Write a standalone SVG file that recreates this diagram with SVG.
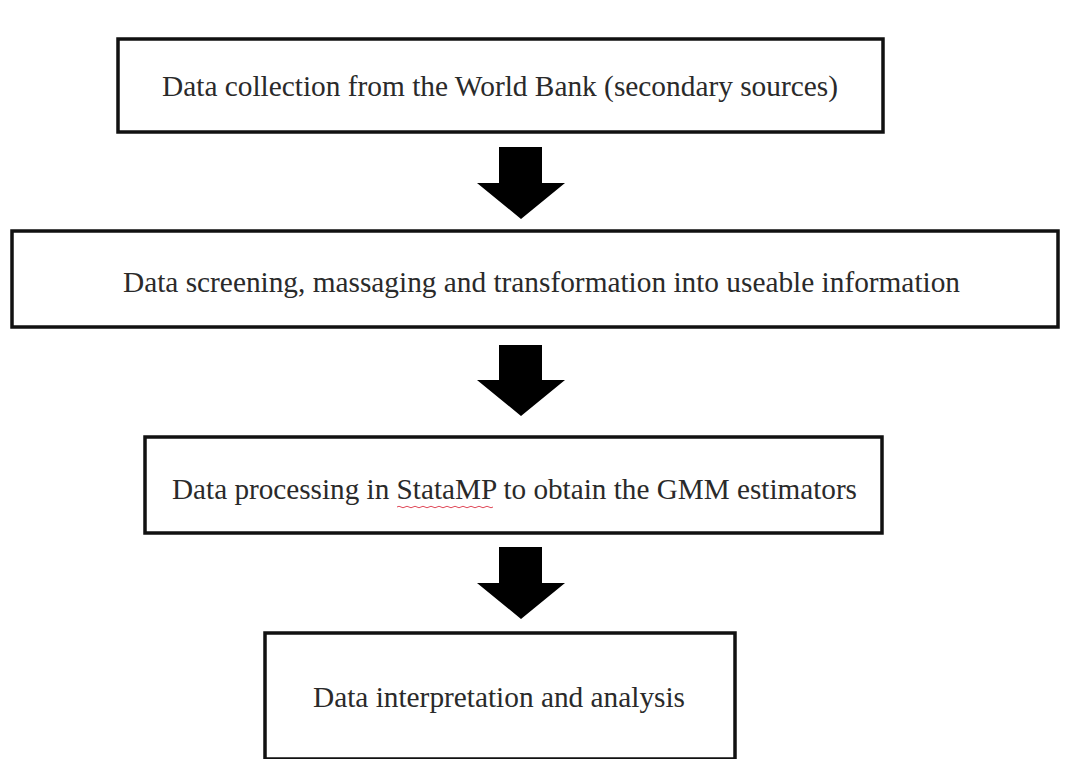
<svg xmlns="http://www.w3.org/2000/svg" width="1065" height="759" viewBox="0 0 1065 759">
<style>
.box{fill:#fff;stroke:#111;stroke-width:3.5}
.lbl{font-family:"Liberation Serif","Times New Roman",serif;font-size:30px;fill:#2a2a2a}
.arr{fill:#000}
</style>
<rect width="1065" height="759" fill="#fff"/>
<g id="connectors">
<path class="arr" d="M499,147 H542 V183 H565 L521,219 L477,183 H499 Z"/>
<path class="arr" d="M499,345 H542 V380 H565 L521,416 L477,380 H499 Z"/>
<path class="arr" d="M499,547 H542 V583 H565 L521,619 L477,583 H499 Z"/>
</g>
<g id="node1">
<rect class="box" x="118" y="39" width="765" height="93"/>
<text class="lbl" x="162" y="96" textLength="676" lengthAdjust="spacingAndGlyphs">Data collection from the World Bank (secondary sources)</text>
</g>
<g id="node2">
<rect class="box" x="12" y="231" width="1046" height="96"/>
<text class="lbl" x="123" y="292" textLength="837" lengthAdjust="spacingAndGlyphs">Data screening, massaging and transformation into useable information</text>
</g>
<g id="node3">
<rect class="box" x="145" y="437" width="737" height="96"/>
<text class="lbl" x="172" y="499" textLength="685" lengthAdjust="spacingAndGlyphs">Data processing in StataMP to obtain the GMM estimators</text>
<path d="M397,507 q2,-1.5 4,0 t4,0 t4,0 t4,0 t4,0 t4,0 t4,0 t4,0 t4,0 t4,0 t4,0 t4,0 t4,0 t4,0 t4,0 t4,0 t4,0 t4,0 t4,0 t4,0 t4,0 t4,0 t4,0 t4,0" fill="none" stroke="#e04a5a" stroke-width="1"/>
</g>
<g id="node4">
<rect class="box" x="265" y="633" width="470" height="126"/>
<text class="lbl" x="313" y="707" textLength="372" lengthAdjust="spacingAndGlyphs">Data interpretation and analysis</text>
</g>
</svg>
